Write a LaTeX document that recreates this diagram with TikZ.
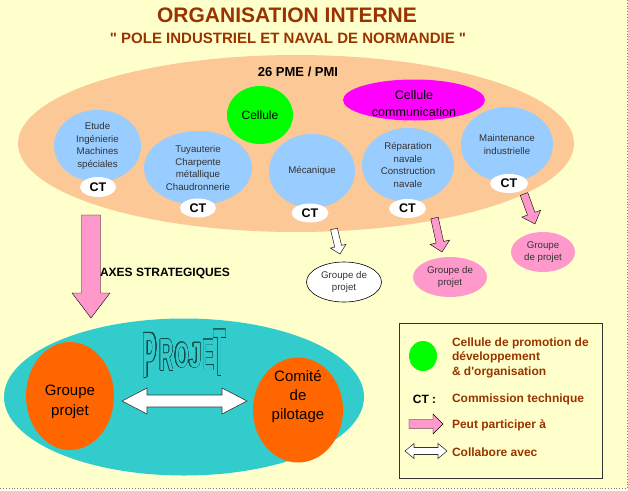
\documentclass[tikz,border=0pt]{standalone}
\usepackage{fontspec}
\setmainfont{Liberation Sans}[Ligatures=TeXOff]
\usepackage{graphicx}
\usepackage[copies]{contour}
\usetikzlibrary{shapes.geometric,calc}
\definecolor{bgyellow}{RGB}{255,255,204}
\definecolor{brownt}{RGB}{153,51,0}
\definecolor{peach}{RGB}{252,200,150}
\definecolor{cellgreen}{RGB}{0,255,0}
\definecolor{cellmag}{RGB}{255,0,255}
\definecolor{lblue}{RGB}{153,204,255}
\definecolor{pinkar}{RGB}{255,153,204}
\definecolor{teal2}{RGB}{51,204,204}
\definecolor{orng}{RGB}{255,102,0}
\definecolor{darkg}{RGB}{51,51,51}
\definecolor{projline}{RGB}{20,70,70}
\contourlength{0.3pt}
\newcommand{\blockarr}[7]{%
  \coordinate (#7-hc) at ($(#3)!#6!(#2)$);
  \draw[#1] ($(#2)!#4!90:(#3)$) -- ($(#7-hc)!#4!90:(#3)$) -- ($(#7-hc)!#5!90:(#3)$) -- (#3) -- ($(#7-hc)!#5!-90:(#3)$) -- ($(#7-hc)!#4!-90:(#3)$) -- ($(#2)!#4!-90:(#3)$) -- cycle;}
\newcommand{\dblarr}[7]{%
  \coordinate (#7-ha) at ($(#2)!#6!(#3)$);
  \coordinate (#7-hb) at ($(#3)!#6!(#2)$);
  \draw[#1] (#2) -- ($(#7-ha)!#5!90:(#3)$) -- ($(#7-ha)!#4!90:(#3)$) -- ($(#7-hb)!#4!90:(#3)$) -- ($(#7-hb)!#5!90:(#3)$) -- (#3) -- ($(#7-hb)!#5!-90:(#3)$) -- ($(#7-hb)!#4!-90:(#3)$) -- ($(#7-ha)!#4!-90:(#3)$) -- ($(#7-ha)!#5!-90:(#3)$) -- cycle;}
\newcommand{\projletter}[5]{%
  \node (#1) at (#2) {\scalebox{#3}[#4]{\bfseries\fontsize{20}{20}\selectfont\textcolor{teal2}{\contour{projline}{#5}}}};}
\tikzset{
  every node/.style={inner sep=0pt, outer sep=0pt},
  oval/.style 2 args={ellipse, inner sep=0pt, minimum width=#1, minimum height=#2},
  btxt/.style={align=center, text=darkg, font=\fontsize{9.7}{12.5}\selectfont},
  gtxt/.style={align=center, text=darkg, font=\fontsize{9.7}{12.2}\selectfont},
  ctnode/.style={fill=white, font=\bfseries\fontsize{12.5}{14}\selectfont},
  ltxt/.style={text=brownt, font=\bfseries\fontsize{12}{14.5}\selectfont, align=left},
  pinkfill/.style={fill=pinkar},
  whitearr/.style={fill=white, draw=darkg, line width=0.6pt},
}
\begin{document}
\begin{tikzpicture}[x=1pt,y=-1pt]
\useasboundingbox (0,0) rectangle (628,490);
\fill[bgyellow] (0,0) rectangle (628,490);
\draw[gray, dotted, line width=0.8pt] (627,0) -- (627,488.5) -- (0,488.5);

% titles
\node[font=\bfseries\fontsize{21}{25}\selectfont, text=brownt] (title) at (287,15) {ORGANISATION INTERNE};
\node[font=\bfseries\fontsize{15}{18}\selectfont, text=brownt] (subtitle) at (288,38.5) {" POLE INDUSTRIEL ET NAVAL DE NORMANDIE "};

% big orange ellipse
\node[oval={556pt}{177pt}, fill=peach] (pme) at (296,143.5) {};
\node[font=\bfseries\fontsize{13}{15}\selectfont] (pmetxt) at (298,72) {26 PME / PMI};

\node[oval={66pt}{58pt}, fill=cellgreen, font=\fontsize{12}{14}\selectfont] (cel) at (260,115) {Cellule};
\node[oval={142pt}{41pt}, fill=cellmag] (com) at (414,100) {};
\node[align=center, font=\fontsize{12.5}{16.5}\selectfont] (comtxt) at (414,103.5) {Cellule\\communication};

% blue circles
\node[oval={87pt}{72pt}, fill=lblue, btxt] (b1) at (97.5,146) {Etude\\Ingénierie\\Machines\\spéciales};
\node[oval={108pt}{74pt}, fill=lblue, btxt] (b2) at (198,168) {Tuyauterie\\Charpente\\métallique\\Chaudronnerie};
\node[oval={86pt}{74pt}, fill=lblue, btxt] (b3) at (312,171) {Mécanique};
\node[oval={92pt}{74pt}, fill=lblue, btxt] (b4) at (408,165) {Réparation\\navale\\Construction\\navale};
\node[oval={92pt}{75pt}, fill=lblue, btxt] (b5) at (507,144.5) {Maintenance\\industrielle};

% CT
\node[oval={36pt}{20pt}, ctnode] (ct1) at (98,187) {CT};
\node[oval={36pt}{19pt}, ctnode] (ct2) at (198,208) {CT};
\node[oval={37pt}{19pt}, ctnode] (ct3) at (310,213) {CT};
\node[oval={37pt}{19pt}, ctnode] (ct4) at (407.5,208.5) {CT};
\node[oval={38pt}{19pt}, ctnode] (ct5) at (509,183.5) {CT};

% groupes de projet
\node[oval={75pt}{40pt}, draw=black, line width=0.6pt, fill=white, gtxt] (g1) at (344,282) {Groupe de\\projet};
\node[oval={74pt}{40pt}, fill=pinkar, gtxt] (g2) at (450,277) {Groupe de\\projet};
\node[oval={64pt}{40pt}, fill=pinkar, gtxt] (g3) at (543,252) {Groupe\\de projet};

% arrows to groups
\coordinate (a1s) at (334,229);
\coordinate (a1e) at ($(g1.north)+(-4,-8)$);
\blockarr{whitearr}{a1s}{a1e}{3.5pt}{8pt}{8pt}{a1}
\coordinate (a2s) at (434.5,218);
\coordinate (a2e) at ($(g2.north)+(-8,-5)$);
\blockarr{pinkfill}{a2s}{a2e}{3.8pt}{10pt}{10pt}{a2}
\coordinate (a3s) at (524,194);
\coordinate (a3e) at ($(g3.north)+(-8,-8)$);
\blockarr{pinkfill}{a3s}{a3e}{4pt}{10pt}{11pt}{a3}

% project ellipse
\node[oval={360pt}{157pt}, fill=teal2] (proj) at (184,397) {};

% big pink arrow
\coordinate (a0s) at (91,215);
\coordinate (a0e) at (91,318);
\blockarr{pinkfill}{a0s}{a0e}{9.5pt}{19pt}{25pt}{a0}
\node[anchor=west, font=\bfseries\fontsize{12}{14}\selectfont] (axes) at (100,273) {AXES STRATEGIQUES};

\node[oval={88pt}{108pt}, fill=orng] (gp) at (70,396) {};
\node[align=center, font=\fontsize{15}{20}\selectfont] (gptxt) at (70,401.5) {Groupe\\projet};
\node[oval={90pt}{105pt}, fill=orng] (cp) at (298,410) {};
\node[align=center, font=\fontsize{15}{19}\selectfont] (cptxt) at (298,396.5) {Comité\\de\\pilotage};

\coordinate (d0s) at ($(gp.east)+(8,5)$);
\coordinate (d0e) at ($(cp.west)+(-6,-9)$);
\dblarr{whitearr}{d0s}{d0e}{6pt}{13pt}{25pt}{d0}

% PROJET word art
\projletter{pP}{150,355.5}{1.05}{3.2}{P}
\projletter{pR}{166.5,355.5}{1.0}{2.25}{R}
\projletter{pO}{182,355.5}{0.9}{1.75}{O}
\projletter{pJ}{195.5,355.5}{1.15}{1.75}{J}
\projletter{pE}{208.5,355.5}{0.9}{2.2}{E}
\projletter{pT}{220,353.5}{1.05}{3.3}{T}

% legend
\node[draw=darkg, line width=0.6pt, fill=bgyellow, minimum width=203pt, minimum height=155pt, anchor=north west] (leg) at (399,323) {};
\node[oval={28pt}{30pt}, fill=cellgreen] (lg) at (423,356) {};
\node[ltxt, anchor=west] (lgt) at (452,357.5) {Cellule de promotion de\\développement\\\& d'organisation};
\node[font=\bfseries\fontsize{12}{14}\selectfont] (lct) at (424.5,399) {CT :};
\node[ltxt, anchor=west] (lctt) at (452,399) {Commission technique};
\coordinate (lps) at (409,424);
\coordinate (lpe) at (443,424);
\blockarr{pinkfill}{lps}{lpe}{4.5pt}{10pt}{10pt}{lp}
\node[ltxt, anchor=west] (lpt) at (452,425) {Peut participer à};
\coordinate (lds) at (405,451);
\coordinate (lde) at (447,451);
\dblarr{whitearr}{lds}{lde}{3.5pt}{7.5pt}{9pt}{ld}
\node[ltxt, anchor=west] (ldt) at (452,452) {Collabore avec};
\end{tikzpicture}
\end{document}
